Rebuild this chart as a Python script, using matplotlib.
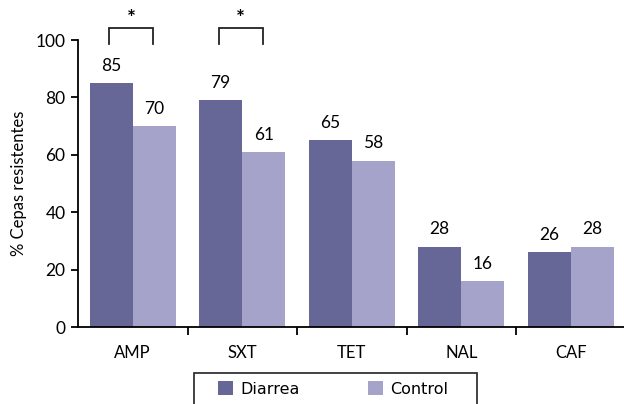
import matplotlib
matplotlib.use("Agg")
import matplotlib.pyplot as plt
import numpy as np
from matplotlib.patches import Patch, Rectangle

categories = ["AMP", "SXT", "TET", "NAL", "CAF"]
diarrea = [85, 79, 65, 28, 26]
control = [70, 61, 58, 16, 28]
significant = [True, True, False, False, False]
series_names = ["Diarrea", "Control"]

c_diarrea = "#666697"
c_control = "#A6A3CB"

plt.rcParams["font.family"] = ["Lato", "DejaVu Sans"]

W, H = 624, 404
fig = plt.figure(figsize=(W / 100, H / 100), dpi=100)
ax = fig.add_axes([78 / W, 77 / H, 547.5 / W, 287 / H])

x = np.arange(len(categories))
bw = 0.393
ax.bar(x - bw / 2, diarrea, bw, color=c_diarrea, linewidth=0)
ax.bar(x + bw / 2, control, bw, color=c_control, linewidth=0)

for xi, d, c in zip(x, diarrea, control):
    ax.text(xi - bw / 2, d + 3.2, f"{d}", ha="center", va="bottom", fontsize=12.5)
    ax.text(xi + bw / 2, c + 3.2, f"{c}", ha="center", va="bottom", fontsize=12.5)

# significance brackets
for xi, sig in zip(x, significant):
    if sig:
        x0, x1 = xi - bw / 2 - 0.02, xi + bw / 2 - 0.01
        ax.plot([x0, x0, x1, x1], [98.5, 104.3, 104.3, 98.5], color="#222222",
                lw=1.3, clip_on=False, solid_joinstyle="miter")
        ax.text((x0 + x1) / 2, 104.0, "*", ha="center", va="bottom",
                fontsize=15, fontweight="bold", clip_on=False)

ax.set_xlim(-0.5, 4.5)
ax.set_ylim(0, 100)
ax.set_yticks([0, 20, 40, 60, 80, 100])
ax.tick_params(axis="y", direction="out", length=5, width=1.3, labelsize=12.5, pad=4)
ax.set_xticks(x)
ax.set_xticklabels(categories, fontsize=12)
ax.tick_params(axis="x", length=0, pad=13)
ax.set_xticks(np.arange(0.5, 4.5, 1.0), minor=True)
ax.tick_params(axis="x", which="minor", direction="out", length=6, width=1.3)
for s in ["top", "right"]:
    ax.spines[s].set_visible(False)
for s in ["left", "bottom"]:
    ax.spines[s].set_linewidth(1.3)
ax.set_ylabel("% Cepas resistentes", fontsize=12, labelpad=6)

# legend box running past the bottom edge of the figure
fig.patches.append(Rectangle((194 / W, -0.05), (477 - 194) / W, 0.05 + (404 - 373) / H,
                             transform=fig.transFigure, facecolor="white",
                             edgecolor="#222222", linewidth=1.2))
handles = [Patch(facecolor=c_diarrea, edgecolor="none"),
           Patch(facecolor=c_control, edgecolor="none")]
leg = fig.legend(handles, series_names, loc="center left",
                 bbox_to_anchor=(218 / W, 1 - 389 / H), ncol=2,
                 prop={"family": ["DejaVu Sans"], "size": 11.5},
                 frameon=False, handlelength=0.95, handleheight=0.95,
                 handletextpad=0.44, columnspacing=4.3, borderpad=0,
                 borderaxespad=0)

fig.savefig("out.png", dpi=100)
